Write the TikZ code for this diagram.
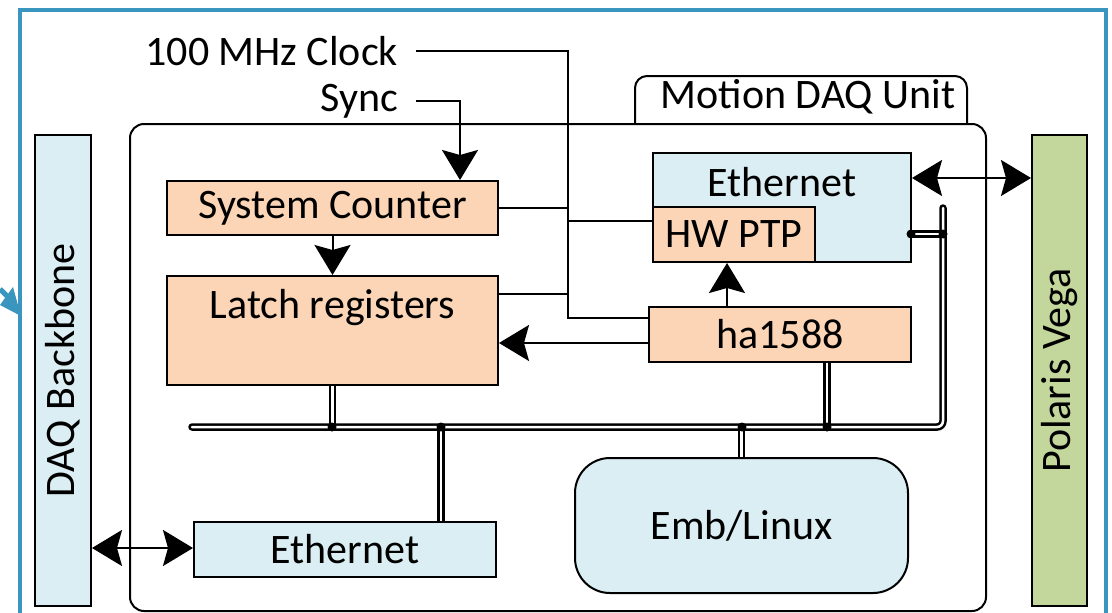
\documentclass[tikz,border=0pt]{standalone}
\usepackage{fontspec}
\setmainfont{Carlito}
\usepackage{graphicx}
\usetikzlibrary{arrows.meta}
\definecolor{framec}{HTML}{3A96BE}
\definecolor{ethc}{HTML}{DAEEF3}
\definecolor{logicc}{HTML}{FBD5B5}
\definecolor{vegac}{HTML}{C3D69B}
\newcommand{\bigfont}{\fontsize{42}{50}\selectfont}
\tikzset{
  box/.style={draw, line width=2pt, inner sep=0pt},
  wire/.style={line width=2pt},
  arr/.style={wire, -{Stealth[length=30pt,width=36pt,inset=5pt]}},
  biarr/.style={wire, {Stealth[length=30pt,width=36pt,inset=5pt]}-{Stealth[length=30pt,width=36pt,inset=5pt]}},
  bus/.style={line width=2.5pt, double=white, double distance=2.5pt},
  sig/.style={inner sep=0pt, outer sep=18pt}
}
\begin{document}
\begin{tikzpicture}[x=1pt,y=-1pt,font=\bigfont]
\useasboundingbox[fill=white] (0,0) rectangle (1112,613);

% outer frame
\draw[framec, line width=4.5pt] (20,613) -- (20,10) -- (1106,10) -- (1106,613);
\fill[framec] (13,287) -- (21,316) -- (0,305) -- (5,298) -- cycle;
\draw[framec, line width=5pt] (0,289) -- (8,297);

% unit
\draw[line width=2pt, rounded corners=14pt] (130,124) rectangle (986,611);
\draw[line width=2pt, rounded corners=12pt] (635,124) -- (635,76) -- (967,76) -- (967,124);
\node (unit) at (808,97) {Motion DAQ Unit};

% side blocks
\node[box, fill=ethc, minimum width=56pt, minimum height=471pt] (bb) at (63,370.5) {\rotatebox{90}{DAQ Backbone}};
\node[box, fill=vegac, minimum width=55pt, minimum height=471pt] (vega) at (1059.5,370.5) {\rotatebox{90}{Polaris Vega}};

% blocks
\node[box, fill=logicc, minimum width=331pt, minimum height=54pt] (sc) at (332.5,208) {System Counter};
\node[box, fill=logicc, minimum width=331pt, minimum height=109pt,
  label={[inner sep=0pt, anchor=north, yshift=-14pt]north:Latch registers}] (latch) at (332.5,330.5) {};
\node[box, fill=ethc, minimum width=258pt, minimum height=109pt,
  label={[inner sep=0pt, anchor=north, yshift=-15pt]north:Ethernet}] (eth1) at (782,207.5) {};
\node[box, fill=logicc, minimum width=162pt, minimum height=55pt] (ptp) at (734,234.5) {HW PTP};
\node[box, fill=logicc, minimum width=262pt, minimum height=55pt] (ha) at (780,334.5) {ha1588};
\node[box, fill=ethc, rounded corners=35pt, minimum width=333pt, minimum height=135pt] (emb) at (741.5,525.5) {Emb/Linux};
\node[box, fill=ethc, minimum width=302pt, minimum height=55pt] (eth2) at (345,549.5) {Ethernet};

% signals
\node[sig, anchor=east] (clk) at (416,51) {100 MHz Clock};
\node[sig, anchor=east] (sync) at (416,101) {Sync};
\coordinate (tap) at (568,318);
\draw[wire] (clk.east) -| (tap) -- (tap -| ha.west);
\draw[arr] (sync.east) -| (sc.north -| 460,0);
\draw[wire] (sc.east) -- (sc.east -| tap);
\draw[wire] (latch.east |- 0,294) -- (tap |- 0,294);
\draw[wire] (tap |- 0,221) -- (ptp.west |- 0,221);
\draw[arr] (sc.south) -- (latch.north);
\draw[arr] (ha.west |- 0,343) -- (latch.east |- 0,343);
\draw[arr] (ha.north -| 727,0) -- (ptp.south -| 727,0);
\draw[biarr] (eth1.east |- 0,178) -- (vega.west |- 0,178);
\draw[biarr] (bb.east |- 0,548) -- (eth2.west |- 0,548);

% bus
\coordinate (busl) at (192,427);
\coordinate (busr) at (943,427);
\draw[bus, line cap=round, rounded corners=6pt] (busl) -- (busr) -- (943,208);
\draw[bus] (eth1.east |- 0,234) -- (943,234);
\draw[bus] (latch.south) -- (latch.south |- busl);
\draw[bus] (ha.south -| 827,0) -- (827,427);
\draw[bus] (emb.north) -- (emb.north |- busl);
\draw[bus] (eth2.north -| 441,0) -- (441,427);
\foreach \x/\y in {332/427, 441/427, 742/427, 827/427, 911/234, 943/234}
  \fill (\x,\y) circle (4.5);
\end{tikzpicture}
\end{document}
